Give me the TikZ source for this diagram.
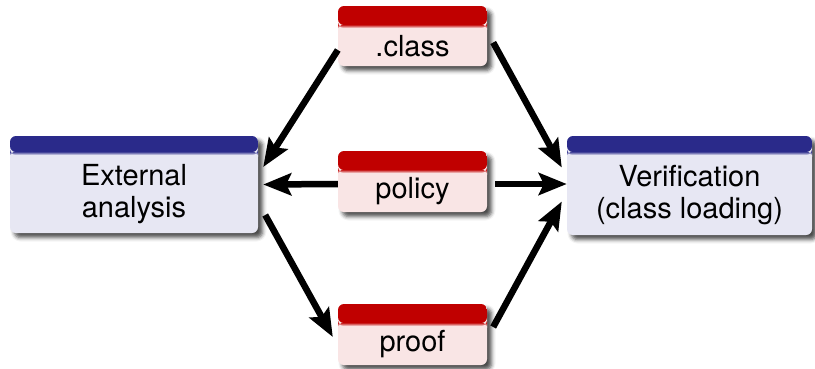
\documentclass[tikz,border=0pt]{standalone}
\usepackage{fontspec}
\setmainfont{TeX Gyre Heros}
\usetikzlibrary{arrows.meta,shadows.blur,calc}
\definecolor{bhead}{RGB}{42,42,138}
\definecolor{bbody}{RGB}{231,231,243}
\definecolor{rhead}{RGB}{192,0,0}
\definecolor{rbody}{RGB}{249,229,229}
\tikzset{
  boxbase/.style={rectangle, rounded corners=6pt, inner sep=0pt,
    blur shadow={shadow xshift=4.5pt, shadow yshift=-4.5pt, shadow blur radius=4pt, shadow opacity=70}},
  bluebox/.style={boxbase, fill=bbody, path picture={
      \fill[bhead] (path picture bounding box.north west) rectangle ([yshift=-16pt]path picture bounding box.north east);
      \shade[top color=bhead, bottom color=bbody] ([yshift=-15.5pt]path picture bounding box.north west) rectangle ([yshift=-19pt]path picture bounding box.north east);}},
  redbox/.style={boxbase, fill=rbody, path picture={
      \fill[rhead] (path picture bounding box.north west) rectangle ([yshift=-19pt]path picture bounding box.north east);
      \shade[top color=rhead, bottom color=rbody] ([yshift=-18.5pt]path picture bounding box.north west) rectangle ([yshift=-22pt]path picture bounding box.north east);}},
  lbl/.style={font=\fontsize{29}{32}\selectfont, align=center, inner sep=0pt},
  conn/.style={line width=6.5pt, -{Stealth[length=28pt,width=22pt,inset=5pt]}}
}
\begin{document}
\begin{tikzpicture}[x=1pt,y=-1pt]
\useasboundingbox (0,0) rectangle (815,368);
% boxes
\node[bluebox, minimum width=248pt, minimum height=97pt] (ext) at (134,184.5) {};
\node[bluebox, minimum width=245pt, minimum height=99pt] (ver) at (689.5,185.5) {};
\node[redbox, minimum width=149pt, minimum height=60pt] (cls) at (412.5,36) {};
\node[redbox, minimum width=149pt, minimum height=61pt] (pol) at (412.5,181.5) {};
\node[redbox, minimum width=149pt, minimum height=61pt] (prf) at (412.5,334.5) {};
% texts
\node[lbl] (extt) at ($(ext.center)+(0,10)$) {External\\analysis};
\node[lbl] (vert) at ($(ver.center)+(0,10)$) {Verification\\(class loading)};
\node[lbl] (clst) at ($(cls.center)+(0,10)$) {.class};
\node[lbl] (polt) at ($(pol.center)+(0,10)$) {policy};
\node[lbl] (prft) at ($(prf.center)+(0,10)$) {proof};
% connectors
\draw[conn] ($(cls.west)+(0,14)$) -- ($(ext.east)+(5,-17.5)$);
\draw[conn] ($(cls.east)+(6,6.5)$) -- ($(ver.west)+(-5,-18)$);
\draw[conn] ($(pol.west)+(0,2.5)$) -- ($(ext.east)+(5,0)$);
\draw[conn] ($(pol.east)+(8,2.5)$) -- ($(ver.west)+(0,-1.5)$);
\draw[conn] ($(ext.east)+(7,30.5)$) -- ($(prf.west)+(-5,2.5)$);
\draw[conn] ($(prf.east)+(6,-7.5)$) -- ($(ver.west)+(-5,16)$);
\end{tikzpicture}
\end{document}
